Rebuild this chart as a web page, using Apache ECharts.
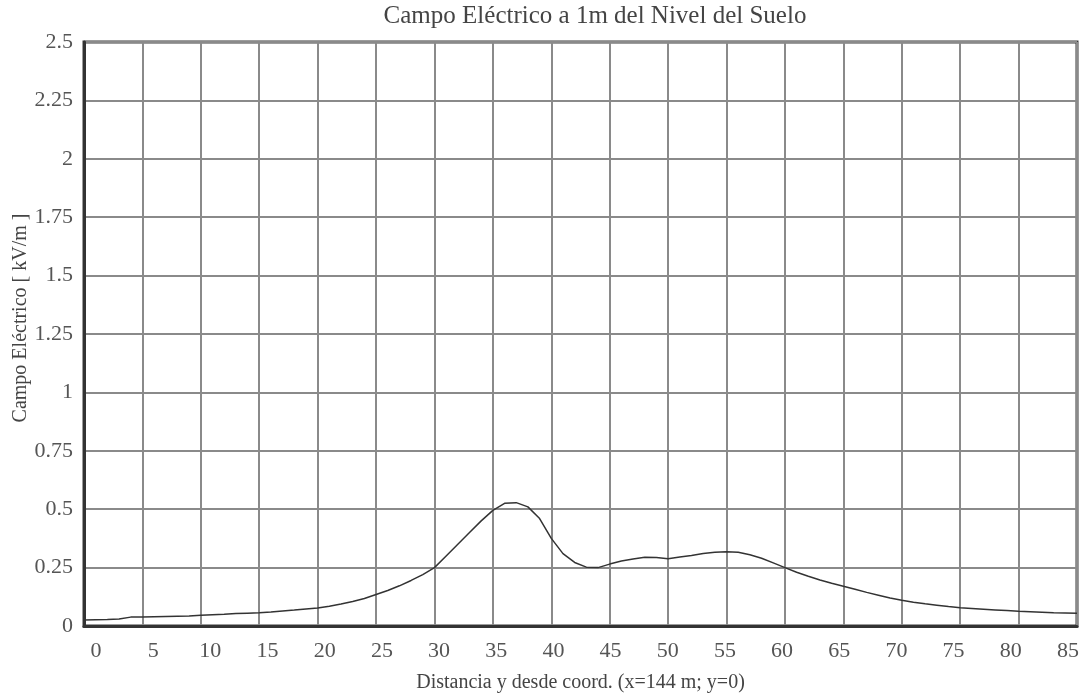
<!DOCTYPE html>
<html>
<head>
<meta charset="utf-8">
<script src="https://cdn.jsdelivr.net/npm/echarts@6/dist/echarts.min.js"></script>
<style>
  html, body { margin: 0; padding: 0; background: #fff; }
  #chart { width: 1086px; height: 693px; }
</style>
</head>
<body>
<div id="chart"></div>
<script>
// distancia y [m]
const distancia = [
  0, 1, 2, 3, 4, 5, 6, 7, 8, 9,
  10, 11, 12, 13, 14, 15, 16, 17, 18, 19,
  20, 21, 22, 23, 24, 25, 26, 27, 28, 29,
  30, 31, 32, 33, 34, 35, 36, 37, 38, 39,
  40, 41, 42, 43, 44, 45, 46, 47, 48, 49,
  50, 51, 52, 53, 54, 55, 56, 57, 58, 59,
  60, 61, 62, 63, 64, 65, 66, 67, 68, 69,
  70, 71, 72, 73, 74, 75, 76, 77, 78, 79,
  80, 81, 82, 83, 84, 85
];
// campo electrico [kV/m]
const campo = [
  0.026, 0.027, 0.028, 0.030, 0.038, 0.039, 0.040, 0.041, 0.042, 0.043,
  0.046, 0.048, 0.050, 0.053, 0.055, 0.057, 0.060, 0.064, 0.068, 0.073,
  0.077, 0.085, 0.094, 0.105, 0.118, 0.135, 0.152, 0.172, 0.195, 0.220,
  0.250, 0.300, 0.350, 0.400, 0.450, 0.495, 0.525, 0.528, 0.510, 0.460,
  0.375, 0.310, 0.272, 0.252, 0.250, 0.265, 0.278, 0.287, 0.294, 0.293,
  0.288, 0.295, 0.302, 0.310, 0.316, 0.318, 0.316, 0.305, 0.290, 0.270,
  0.250, 0.230, 0.213, 0.197, 0.183, 0.170, 0.157, 0.144, 0.132, 0.120,
  0.110, 0.102, 0.095, 0.089, 0.083, 0.078, 0.075, 0.072, 0.069, 0.066,
  0.063, 0.061, 0.059, 0.057, 0.056, 0.055
];
// etiquetas del eje x (en el original van algo desplazadas respecto a la rejilla)
const xTicks = [0, 5, 10, 15, 20, 25, 30, 35, 40, 45, 50, 55, 60, 65, 70, 75, 80, 85];

const serif = "'Liberation Serif', 'DejaVu Serif', serif";
const chart = echarts.init(document.getElementById("chart"), null, { renderer: "canvas" });

chart.setOption({
  backgroundColor: "#fff",
  animation: false,
  title: {
    text: "Campo Eléctrico a 1m del Nivel del Suelo",
    left: 590,
    top: -1,
    textAlign: "center",
    textStyle: { fontFamily: serif, fontWeight: "normal", fontSize: 25, color: "#444" },
  },
  grid: {
    left: 84,
    right: 9,
    top: 42,
    bottom: 67,
    outerBoundsMode: "none",
    show: true,
    borderColor: "#3a3a3a",
    borderWidth: 3,
  },
  xAxis: [
    {
      type: "value",
      min: 0,
      max: 85,
      interval: 5,
      axisLine: { show: true, lineStyle: { color: "#333", width: 3 } },
      axisTick: { show: false },
      axisLabel: { show: false },
      splitLine: { show: true, lineStyle: { color: "#8a8a8a", width: 2 } },
    },
    {
      // eje solo para etiquetas
      type: "value",
      position: "bottom",
      min: -1.05,
      max: 85.79,
      name: "Distancia y desde coord. (x=144 m; y=0)",
      nameLocation: "middle",
      nameGap: 47,
      nameTextStyle: { fontFamily: serif, fontSize: 20, color: "#444" },
      axisLine: { show: false },
      axisTick: { show: false },
      splitLine: { show: false },
      axisLabel: {
        customValues: xTicks,
        fontFamily: serif,
        fontSize: 22,
        color: "#555",
        margin: 14,
      },
    },
  ],
  yAxis: {
    type: "value",
    min: 0,
    max: 2.5,
    interval: 0.25,
    name: "Campo Eléctrico [ kV/m ]",
    nameLocation: "middle",
    nameGap: 53,
    nameMoveOverlap: false,
    nameTextStyle: { fontFamily: serif, fontSize: 20, color: "#444", padding: [0, 0, 0, 32] },
    axisLine: { show: true, lineStyle: { color: "#333", width: 3 } },
    axisTick: { show: false },
    axisLabel: { fontFamily: serif, fontSize: 22, color: "#555", margin: 11 },
    splitLine: { show: true, lineStyle: { color: "#8a8a8a", width: 2 } },
  },
  series: [
    {
      type: "line",
      xAxisIndex: 0,
      data: distancia.map((d, i) => [d, campo[i]]),
      showSymbol: false,
      smooth: false,
      lineStyle: { color: "#333", width: 1.5 },
    },
  ],
});
</script>
</body>
</html>
